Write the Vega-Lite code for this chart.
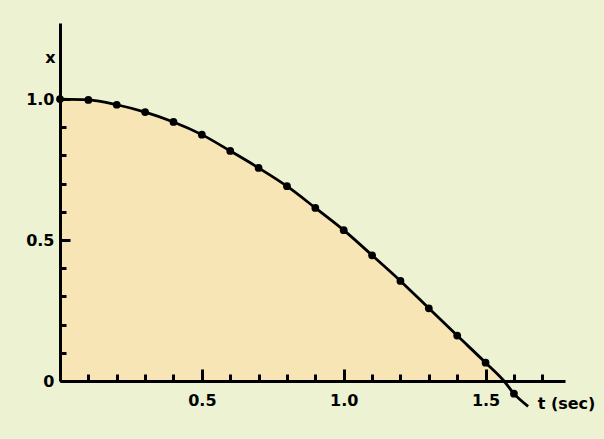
{
  "$schema": "https://vega.github.io/schema/vega-lite/v6.json",
  "width": 505,
  "height": 358,
  "autosize": {"type": "none"},
  "padding": {"left": 60, "top": 23, "right": 39, "bottom": 58},
  "background": "#edf2d3",
  "config": {
    "view": {"stroke": null},
    "axis": {
      "grid": false,
      "labelFont": "DejaVu Sans",
      "titleFont": "DejaVu Sans",
      "labelColor": "#000",
      "titleColor": "#000",
      "domainColor": "#000",
      "tickColor": "#000",
      "domainWidth": 3,
      "tickWidth": 3,
      "labelFontSize": 16,
      "labelFontWeight": "bold",
      "titleFontSize": 16,
      "titleFontWeight": "bold",
      "labelFlush": false,
      "labelOverlap": false
    }
  },
  "datasets": {
    "dots": [
      {"t": 0.0, "x": 1.0},
      {"t": 0.1, "x": 0.997},
      {"t": 0.2, "x": 0.98},
      {"t": 0.3, "x": 0.954},
      {"t": 0.4, "x": 0.919},
      {"t": 0.5, "x": 0.874},
      {"t": 0.6, "x": 0.816},
      {"t": 0.7, "x": 0.756},
      {"t": 0.8, "x": 0.691},
      {"t": 0.9, "x": 0.614},
      {"t": 1.0, "x": 0.535},
      {"t": 1.1, "x": 0.446},
      {"t": 1.2, "x": 0.355},
      {"t": 1.3, "x": 0.258},
      {"t": 1.4, "x": 0.161},
      {"t": 1.5, "x": 0.065},
      {"t": 1.6, "x": -0.045}
    ],
    "curve": [
      {"t": 0.0, "x": 1.0},
      {"t": 0.1, "x": 0.997},
      {"t": 0.2, "x": 0.98},
      {"t": 0.3, "x": 0.954},
      {"t": 0.4, "x": 0.919},
      {"t": 0.5, "x": 0.874},
      {"t": 0.6, "x": 0.816},
      {"t": 0.7, "x": 0.756},
      {"t": 0.8, "x": 0.691},
      {"t": 0.9, "x": 0.614},
      {"t": 1.0, "x": 0.535},
      {"t": 1.1, "x": 0.446},
      {"t": 1.2, "x": 0.355},
      {"t": 1.3, "x": 0.258},
      {"t": 1.4, "x": 0.161},
      {"t": 1.5, "x": 0.065},
      {"t": 1.565, "x": 0.0},
      {"t": 1.6, "x": -0.045},
      {"t": 1.65, "x": -0.09}
    ]
  },
  "resolve": {"axis": {"x": "independent", "y": "independent"}},
  "layer": [
    {
      "data": {"name": "curve"},
      "transform": [{"filter": "datum.x >= 0"}],
      "mark": {"type": "area", "interpolate": "monotone", "color": "#f8e5b5"},
      "encoding": {
        "x": {"field": "t", "type": "quantitative", "scale": {"domain": [0, 1.78], "nice": false}, "axis": null},
        "y": {"field": "x", "type": "quantitative", "scale": {"domain": [0, 1.27], "nice": false}, "axis": null}
      }
    },
    {
      "data": {"name": "curve"},
      "mark": {"type": "line", "interpolate": "monotone", "color": "#000", "strokeWidth": 2.8},
      "encoding": {
        "x": {
          "field": "t",
          "type": "quantitative",
          "axis": {
            "orient": "bottom",
            "zindex": 2,
            "values": [0.1, 0.2, 0.3, 0.4, 0.6, 0.7, 0.8, 0.9, 1.1, 1.2, 1.3, 1.4, 1.6, 1.7],
            "tickSize": -7,
            "labels": false,
            "title": "t (sec)",
            "titleX": 506,
            "titleY": 27,
            "titleAlign": "center",
            "titleBaseline": "alphabetic"
          }
        },
        "y": {
          "field": "x",
          "type": "quantitative",
          "axis": {
            "orient": "left",
            "zindex": 2,
            "values": [0.1, 0.2, 0.3, 0.4, 0.6, 0.7, 0.8, 0.9, 1],
            "tickSize": -6,
            "labels": false,
            "title": "x",
            "titleAngle": 0,
            "titleX": -10,
            "titleY": 39,
            "titleAlign": "center",
            "titleBaseline": "alphabetic"
          }
        }
      }
    },
    {
      "data": {"name": "dots"},
      "mark": {"type": "circle", "color": "#000", "size": 60, "opacity": 1},
      "encoding": {
        "x": {
          "field": "t",
          "type": "quantitative",
          "axis": {
            "orient": "bottom",
            "zindex": 2,
            "values": [0.5, 1, 1.5],
            "tickSize": -12,
            "domain": false,
            "format": ".1f",
            "labelPadding": 23,
            "title": null
          }
        },
        "y": {
          "field": "x",
          "type": "quantitative",
          "axis": {
            "orient": "left",
            "zindex": 2,
            "values": [0, 0.5, 1],
            "tickSize": -10,
            "domain": false,
            "labelExpr": "datum.value == 0 ? '0' : format(datum.value, '.1f')",
            "labelPadding": 16,
            "title": null
          }
        }
      }
    }
  ]
}
